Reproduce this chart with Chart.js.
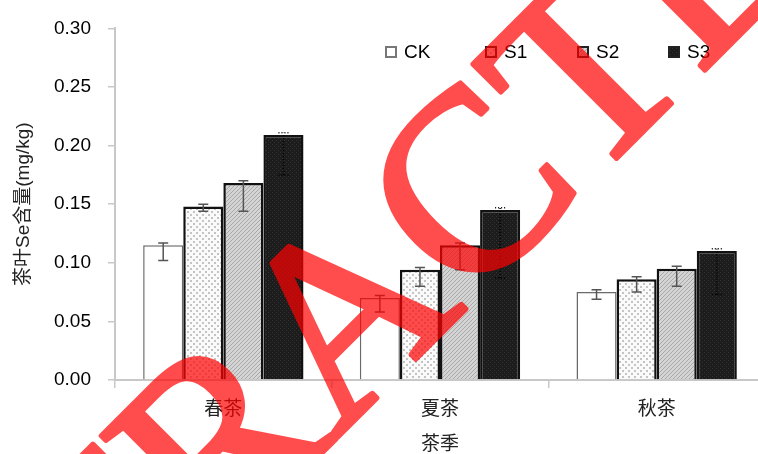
<!DOCTYPE html>
<html lang="zh-CN">
<head>
    <meta charset="UTF-8" />
    <title>茶叶Se含量</title>
    <style>
        html, body {
            margin: 0;
            padding: 0;
            background: #fff;
            overflow: hidden;
        }
        #wrap {
            width: 768px;
            height: 454px;
        }
    </style>
</head>
<body>
    <div id="wrap">
        <canvas id="chart-1"></canvas>
    </div>

    <script src="https://cdn.jsdelivr.net/npm/chart.js"></script>

    <script>
        // data
        const seasons = ["春茶", "夏茶", "秋茶"];
        const seriesNames = ["CK", "S1", "S2", "S3"];
        const ckValues = [0.115, 0.070, 0.075];
        const s1Values = [0.148, 0.094, 0.086];
        const s2Values = [0.168, 0.115, 0.095];
        const s3Values = [0.209, 0.145, 0.110];
        // error bars (below / above the bar top)
        const ckErrMinus = [0.013, 0.012, 0.006];
        const s1ErrMinus = [0.004, 0.014, 0.011];
        const s2ErrMinus = [0.024, 0.021, 0.015];
        const s3ErrMinus = [0.034, 0.058, 0.037];
        const errPlus = [0.002, 0.002, 0.002];
        const yTicks = [0, 0.05, 0.10, 0.15, 0.20, 0.25, 0.30];

        // fill patterns
        function makePattern(size, draw) {
            const c = document.createElement("canvas");
            c.width = size;
            c.height = size;
            draw(c.getContext("2d"));
            return c.getContext("2d").createPattern(c, "repeat");
        }
        const dotted = makePattern(6, (g) => {
            g.fillStyle = "#fafafa";
            g.fillRect(0, 0, 6, 6);
            g.fillStyle = "#c4c4c4";
            g.fillRect(1, 1, 2, 2);
            g.fillRect(4, 4, 2, 2);
        });
        const hatched = makePattern(4, (g) => {
            g.fillStyle = "#d4d4d4";
            g.fillRect(0, 0, 4, 4);
            g.fillStyle = "#a8a8a8";
            g.fillRect(3, 0, 1, 1);
            g.fillRect(2, 1, 1, 1);
            g.fillRect(1, 2, 1, 1);
            g.fillRect(0, 3, 1, 1);
        });
        const dark = makePattern(4, (g) => {
            g.fillStyle = "#1c1c1c";
            g.fillRect(0, 0, 4, 4);
            g.fillStyle = "#333";
            g.fillRect(0, 0, 1, 1);
            g.fillRect(2, 2, 1, 1);
        });

        const styles = [
            { bg: "#fff", border: "#6a6a6a", bw: 1.5, err: "#555", dash: [] },
            { bg: dotted, border: "#111", bw: 2.5, err: "#555", dash: [] },
            { bg: hatched, border: "#111", bw: 2.5, err: "#555", dash: [] },
            { bg: dark, border: "#111", bw: 2.5, err: "#000", dash: [1, 2] },
        ];
        const allValues = [ckValues, s1Values, s2Values, s3Values];
        const allErrMinus = [ckErrMinus, s1ErrMinus, s2ErrMinus, s3ErrMinus];

        const datasets = seriesNames.map((name, i) => ({
            label: name,
            data: allValues[i],
            errMinus: allErrMinus[i],
            errPlus: errPlus,
            backgroundColor: styles[i].bg,
            borderColor: styles[i].border,
            borderWidth: styles[i].bw,
            errColor: styles[i].err,
            errDash: styles[i].dash,
            categoryPercentage: 0.74,
            barPercentage: 1.0,
        }));

        // error bars drawn through the scales
        const errorBars = {
            id: "errorBars",
            afterDatasetsDraw(chart) {
                const ctx = chart.ctx;
                const y = chart.scales.y;
                chart.data.datasets.forEach((ds, i) => {
                    const meta = chart.getDatasetMeta(i);
                    meta.data.forEach((bar, j) => {
                        const v = ds.data[j];
                        const lo = y.getPixelForValue(v - ds.errMinus[j]);
                        const hi = y.getPixelForValue(v + ds.errPlus[j]);
                        ctx.save();
                        ctx.strokeStyle = ds.errColor;
                        ctx.lineWidth = 1.5;
                        ctx.setLineDash(ds.errDash);
                        ctx.beginPath();
                        ctx.moveTo(bar.x, lo);
                        ctx.lineTo(bar.x, hi);
                        ctx.moveTo(bar.x - 5, lo);
                        ctx.lineTo(bar.x + 5, lo);
                        ctx.moveTo(bar.x - 5, hi);
                        ctx.lineTo(bar.x + 5, hi);
                        ctx.stroke();
                        ctx.restore();
                    });
                });
            },
        };

        // legend inside the plot, top right
        const legendBoxes = {
            id: "legendBoxes",
            afterDatasetsDraw(chart) {
                const ctx = chart.ctx;
                const starts = [385, 485, 577, 668];
                const cy = 52;
                chart.data.datasets.forEach((ds, i) => {
                    const x = starts[i];
                    ctx.save();
                    ctx.fillStyle = ds.backgroundColor;
                    ctx.fillRect(x, cy - 6, 12, 12);
                    ctx.strokeStyle = i === 0 ? "#777" : "#222";
                    ctx.lineWidth = 2;
                    ctx.strokeRect(x + 1, cy - 5, 10, 10);
                    ctx.fillStyle = "#000";
                    ctx.font = "19px 'Liberation Sans', sans-serif";
                    ctx.textBaseline = "middle";
                    ctx.fillText(ds.label, x + 19, cy + 1);
                    ctx.restore();
                });
            },
        };

        // red diagonal stamp over the figure
        const stamp = {
            id: "stamp",
            afterDraw(chart) {
                const ctx = chart.ctx;
                const word = "RETRACTED";
                const off = document.createElement("canvas");
                off.width = chart.canvas.width;
                off.height = chart.canvas.height;
                const g = off.getContext("2d");
                g.font = "257px 'Liberation Serif', serif";
                const before = g.measureText(word.slice(0, 5)).width;
                const cW = g.measureText("C").width;
                g.translate(528, 247);
                g.rotate(-Math.PI / 4);
                g.fillStyle = "#f00";
                g.strokeStyle = "#f00";
                g.lineWidth = 5;
                g.lineJoin = "round";
                g.fillText(word, -(before + cW / 2), 0);
                g.strokeText(word, -(before + cW / 2), 0);
                ctx.save();
                ctx.globalAlpha = 0.7;
                ctx.drawImage(off, 0, 0);
                ctx.restore();
            },
        };

        const ctx = document.getElementById("chart-1").getContext("2d");
        const chart = new Chart(ctx, {
            type: "bar",
            data: {
                labels: seasons,
                datasets: datasets,
            },
            options: {
                responsive: true,
                maintainAspectRatio: false,
                animation: false,
                layout: {
                    padding: { top: 24, right: 3, left: 0, bottom: 0 },
                },
                plugins: {
                    legend: { display: false },
                    tooltip: { enabled: false },
                },
                scales: {
                    x: {
                        afterFit: (scale) => { scale.height = 74; },
                        grid: {
                            offset: true,
                            drawOnChartArea: false,
                            drawTicks: true,
                            tickLength: 8,
                            color: "#c8c8c8",
                            lineWidth: 1.5,
                        },
                        border: { color: "#c8c8c8", width: 2 },
                        ticks: {
                            padding: 8,
                            color: "#222",
                            font: { family: "'Noto Sans CJK SC'", size: 19 },
                        },
                        title: {
                            display: true,
                            text: "茶季",
                            color: "#222",
                            padding: { top: 6, bottom: 0 },
                            font: { family: "'Noto Sans CJK SC'", size: 19 },
                        },
                    },
                    y: {
                        min: 0,
                        max: 0.3,
                        afterFit: (scale) => { scale.width = 115; },
                        afterBuildTicks: (scale) => {
                            scale.ticks = yTicks.map((v) => ({ value: v }));
                        },
                        grid: {
                            drawOnChartArea: false,
                            drawTicks: true,
                            tickLength: 7,
                            color: "#c8c8c8",
                            lineWidth: 1.5,
                        },
                        border: { color: "#c8c8c8", width: 2 },
                        ticks: {
                            padding: 17,
                            color: "#000",
                            font: { family: "'Liberation Sans'", size: 19 },
                            callback: (v) => Number(v).toFixed(2),
                        },
                        title: {
                            display: true,
                            text: "茶叶Se含量(mg/kg)",
                            color: "#222",
                            padding: { top: 12, bottom: 0 },
                            font: { family: "'Liberation Sans', 'Noto Sans CJK SC'", size: 19 },
                        },
                    },
                },
            },
            plugins: [errorBars, legendBoxes, stamp],
        });
    </script>
</body>
</html>
